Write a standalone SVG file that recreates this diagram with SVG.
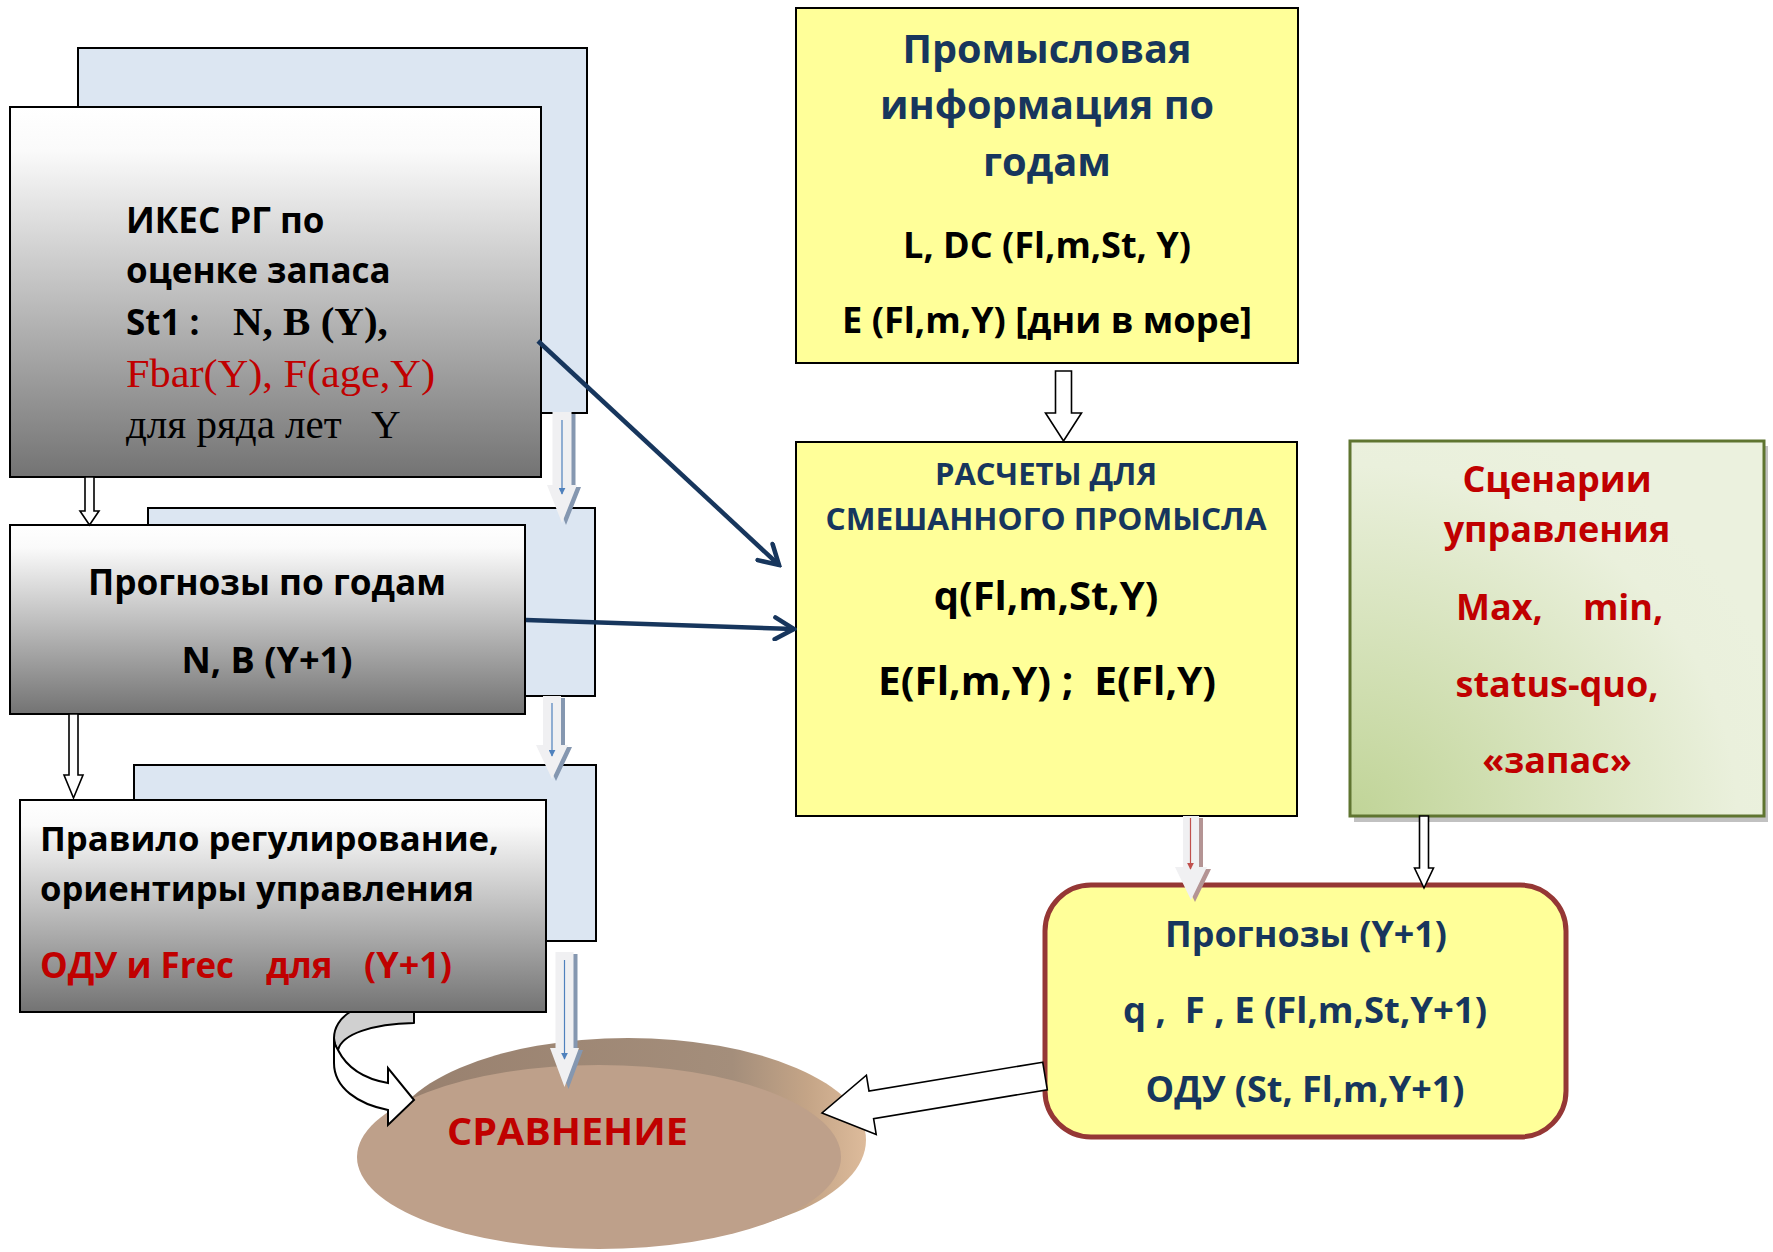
<svg xmlns="http://www.w3.org/2000/svg" width="1773" height="1252" viewBox="0 0 1773 1252">
<style>
.sans{font-family:"Open Sans","Liberation Sans",sans-serif;font-weight:bold}
.serif{font-family:"Liberation Serif","Times New Roman",serif}
.navy{fill:#17365D}
.red{fill:#C00000}
.blk{fill:#000}
.back{fill:#DCE6F2;stroke:#000;stroke-width:2}
.gray{fill:url(#gGray);stroke:#000;stroke-width:2}
.yel{fill:#FFFF99;stroke:#000;stroke-width:2}
.hollow{fill:#FFF;stroke:#000;stroke-width:1.6;stroke-linejoin:miter}
.lite{fill:#F0F0F2}
.shB{fill:#8597B0}
.shR{fill:#B49494}
.conn{fill:none;stroke:#17365D;stroke-width:4.5}
</style>
<defs>
<linearGradient id="gGray" x1="0" y1="0" x2="0" y2="1">
<stop offset="0" stop-color="#FFFFFF"/>
<stop offset="0.12" stop-color="#FAFAFA"/>
<stop offset="1" stop-color="#737373"/>
</linearGradient>
<radialGradient id="gGreen" cx="0" cy="1" r="1.1">
<stop offset="0" stop-color="#C0D497"/>
<stop offset="0.85" stop-color="#EAF0DC"/>
<stop offset="1" stop-color="#EBF1DE"/>
</radialGradient>
<linearGradient id="gBack" x1="0" y1="0" x2="1" y2="0">
<stop offset="0" stop-color="#98806E"/>
<stop offset="0.72" stop-color="#A48E7B"/>
<stop offset="0.88" stop-color="#C5A587"/>
<stop offset="1" stop-color="#DDBB9B"/>
</linearGradient>
<marker id="chev" viewBox="0 0 26 26" markerWidth="26" markerHeight="26" markerUnits="userSpaceOnUse" refX="23" refY="13" orient="auto">
<path d="M4,2 L23,13 L4,24" fill="none" stroke="#17365D" stroke-width="4.5" stroke-linecap="round"/>
</marker>
<marker id="tb" viewBox="0 0 10 10" markerWidth="7" markerHeight="7" markerUnits="userSpaceOnUse" refX="9" refY="5" orient="auto">
<path d="M0,0 L10,5 L0,10 Z" fill="#4F81BD"/>
</marker>
<marker id="tr" viewBox="0 0 10 10" markerWidth="7" markerHeight="7" markerUnits="userSpaceOnUse" refX="9" refY="5" orient="auto">
<path d="M0,0 L10,5 L0,10 Z" fill="#C0504D"/>
</marker>
</defs>

<rect width="1773" height="1252" fill="#FFFFFF"/>

<g id="node-ices">
<rect class="back" x="78" y="48" width="509" height="365"/>
<rect class="gray" x="10" y="107" width="531" height="370"/>
<text class="sans blk" x="126" y="233" font-size="35">ИКЕС РГ по</text>
<text class="sans blk" x="126" y="283" font-size="35">оценке запаса</text>
<text class="sans blk" x="126" y="335" font-size="35">St1 :</text>
<text class="serif blk" x="233" y="335" font-size="41" font-weight="bold">N, B (Y),</text>
<text class="serif red" x="126" y="387" font-size="41" textLength="309" lengthAdjust="spacingAndGlyphs">Fbar(Y), F(age,Y)</text>
<text class="serif blk" x="126" y="438" font-size="41">для ряда лет</text>
<text class="serif blk" x="371" y="438" font-size="41">Y</text>
</g>

<g id="node-forecast-years">
<rect class="back" x="148" y="508" width="447" height="188"/>
<rect class="gray" x="10" y="525" width="515" height="189"/>
<text class="sans blk" x="267" y="595" font-size="35" text-anchor="middle" textLength="358" lengthAdjust="spacingAndGlyphs">Прогнозы по годам</text>
<text class="sans blk" x="267" y="673" font-size="36" text-anchor="middle" textLength="171" lengthAdjust="spacingAndGlyphs">N, B (Y+1)</text>
</g>

<g id="node-rule">
<rect class="back" x="134" y="765" width="462" height="176"/>
<rect class="gray" x="20" y="800" width="526" height="212"/>
<text class="sans blk" x="40" y="851" font-size="34" textLength="459" lengthAdjust="spacingAndGlyphs">Правило регулирование,</text>
<text class="sans blk" x="40" y="901" font-size="34" textLength="434" lengthAdjust="spacingAndGlyphs">ориентиры управления</text>
<text class="sans red" y="978" font-size="35"><tspan x="40" textLength="194" lengthAdjust="spacingAndGlyphs">ОДУ и Frec</tspan><tspan x="266">для</tspan><tspan x="364" textLength="88" lengthAdjust="spacingAndGlyphs">(Y+1)</tspan></text>
</g>

<g id="node-fishery-info">
<rect class="yel" x="796" y="8" width="502" height="355"/>
<text class="sans navy" x="1047" y="63" font-size="39" text-anchor="middle" textLength="289" lengthAdjust="spacingAndGlyphs">Промысловая</text>
<text class="sans navy" x="1047" y="119" font-size="39" text-anchor="middle" textLength="334" lengthAdjust="spacingAndGlyphs">информация по</text>
<text class="sans navy" x="1047" y="176" font-size="39" text-anchor="middle" textLength="128" lengthAdjust="spacingAndGlyphs">годам</text>
<text class="sans blk" x="1047" y="258" font-size="36" text-anchor="middle" textLength="288" lengthAdjust="spacingAndGlyphs">L, DC (Fl,m,St, Y)</text>
<text class="sans blk" x="1047" y="333" font-size="36" text-anchor="middle" textLength="410" lengthAdjust="spacingAndGlyphs">E (Fl,m,Y) [дни в море]</text>
</g>

<g id="node-mixed-fishery">
<rect class="yel" x="796" y="442" width="501" height="374"/>
<text class="sans navy" x="1046" y="485" font-size="31" text-anchor="middle">РАСЧЕТЫ ДЛЯ</text>
<text class="sans navy" x="1046" y="530" font-size="31" text-anchor="middle" textLength="441" lengthAdjust="spacingAndGlyphs">СМЕШАННОГО ПРОМЫСЛА</text>
<text class="sans blk" x="1046" y="610" font-size="40" text-anchor="middle">q(Fl,m,St,Y)</text>
<text class="sans blk" x="1047" y="695" font-size="40" text-anchor="middle" textLength="338" lengthAdjust="spacingAndGlyphs">E(Fl,m,Y) ;&#160; E(Fl,Y)</text>
</g>

<g id="node-scenarios">
<rect x="1354" y="446" width="414" height="376" fill="#A6A6A6" opacity="0.7"/>
<rect x="1350" y="441" width="414" height="375" fill="url(#gGreen)" stroke="#5F7530" stroke-width="3"/>
<text class="sans red" x="1557" y="492" font-size="36" text-anchor="middle">Сценарии</text>
<text class="sans red" x="1557" y="542" font-size="36" text-anchor="middle">управления</text>
<text class="sans red" y="620" font-size="36"><tspan x="1456">Max,</tspan><tspan x="1583">min,</tspan></text>
<text class="sans red" x="1557" y="697" font-size="36" text-anchor="middle">status-quo,</text>
<text class="sans red" x="1557" y="773" font-size="36" text-anchor="middle">«запас»</text>
</g>

<g id="node-comparison">
<ellipse cx="628" cy="1140" rx="238" ry="102" fill="url(#gBack)"/>
<ellipse cx="599" cy="1157" rx="242" ry="92" fill="#BEA08A"/>
<text class="sans red" x="447" y="1145" font-size="38" textLength="241" lengthAdjust="spacingAndGlyphs">СРАВНЕНИЕ</text>
</g>

<g id="node-forecast-y1">
<rect x="1045" y="885" width="521" height="252" rx="46" ry="46" fill="#FFFF99" stroke="#953735" stroke-width="5"/>
<text class="sans navy" x="1306" y="947" font-size="35" text-anchor="middle" textLength="282" lengthAdjust="spacingAndGlyphs">Прогнозы (Y+1)</text>
<text class="sans navy" x="1305" y="1023" font-size="36" text-anchor="middle" textLength="364" lengthAdjust="spacingAndGlyphs">q ,&#160; F , E (Fl,m,St,Y+1)</text>
<text class="sans navy" x="1305" y="1102" font-size="35" text-anchor="middle" textLength="319" lengthAdjust="spacingAndGlyphs">ОДУ (St, Fl,m,Y+1)</text>
</g>

<g id="connectors">
<polygon class="hollow" points="85,477 94,477 94,511 99,511 89.5,525 80,511 85,511"/>
<polygon class="hollow" points="69,714 78,714 78,775 83,775 73.5,798 64,775 69,775"/>
<polygon class="hollow" points="1055.5,371 1071.5,371 1071.5,413 1081.5,413 1063.5,441 1045.5,413 1055.5,413"/>
<polygon class="hollow" points="1419.5,816 1428.5,816 1428.5,868 1433.5,868 1424,888 1414.5,868 1419.5,868"/>

<g transform="translate(4,2)"><polygon class="shB" points="552.5,412 571.5,412 571.5,485 577,485 562,523 547,485 552.5,485"/></g>
<polygon class="lite" points="552.5,412 571.5,412 571.5,485 577,485 562,523 547,485 552.5,485"/>
<line x1="562" y1="420" x2="562" y2="494" stroke="#4F81BD" stroke-width="1.2" marker-end="url(#tb)"/>

<g transform="translate(4,2)"><polygon class="shB" points="543,696 561,696 561,745 568,745 552,779 536,745 543,745"/></g>
<polygon class="lite" points="543,696 561,696 561,745 568,745 552,779 536,745 543,745"/>
<line x1="552" y1="703" x2="552" y2="756" stroke="#4F81BD" stroke-width="1.2" marker-end="url(#tb)"/>

<g transform="translate(4,2)"><polygon class="shB" points="555.5,952 573.5,952 573.5,1048 579,1048 564.5,1087 550,1048 555.5,1048"/></g>
<polygon class="lite" points="555.5,952 573.5,952 573.5,1048 579,1048 564.5,1087 550,1048 555.5,1048"/>
<line x1="564.5" y1="960" x2="564.5" y2="1059" stroke="#4F81BD" stroke-width="1.2" marker-end="url(#tb)"/>

<g transform="translate(4,2)"><polygon class="shR" points="1183,816 1199,816 1199,867 1207,867 1191,900 1175,867 1183,867"/></g>
<polygon class="lite" points="1183,816 1199,816 1199,867 1207,867 1191,900 1175,867 1183,867"/>
<line x1="1190.5" y1="818" x2="1190.5" y2="869" stroke="#C0504D" stroke-width="1.2" marker-end="url(#tr)"/>

<line class="conn" x1="538" y1="341" x2="779" y2="565" marker-end="url(#chev)"/>
<line class="conn" x1="526" y1="620" x2="794" y2="629" marker-end="url(#chev)"/>

<path d="M350,1012 L414,1012 L414,1023 C372,1024 342,1034 338,1050 C335,1046 334,1042 334,1038 C334,1028 340,1018 350,1012 Z" fill="#D0D0D0" stroke="#000" stroke-width="2" stroke-linejoin="round"/>
<path d="M334,1038 C334,1044 336,1047 338,1050 C347,1068 365,1079 388,1083 L388,1068 L414,1100 L388,1125 L388,1110 C358,1104 334,1088 334,1063 Z" fill="#FFFFFF" stroke="#000" stroke-width="2" stroke-linejoin="miter"/>

<polygon class="hollow" stroke-width="2" points="1042.7,1062.2 869,1091 866.4,1075.2 822,1113 876.2,1134.4 873.6,1118.6 1047.3,1089.8"/>
</g>
</svg>
